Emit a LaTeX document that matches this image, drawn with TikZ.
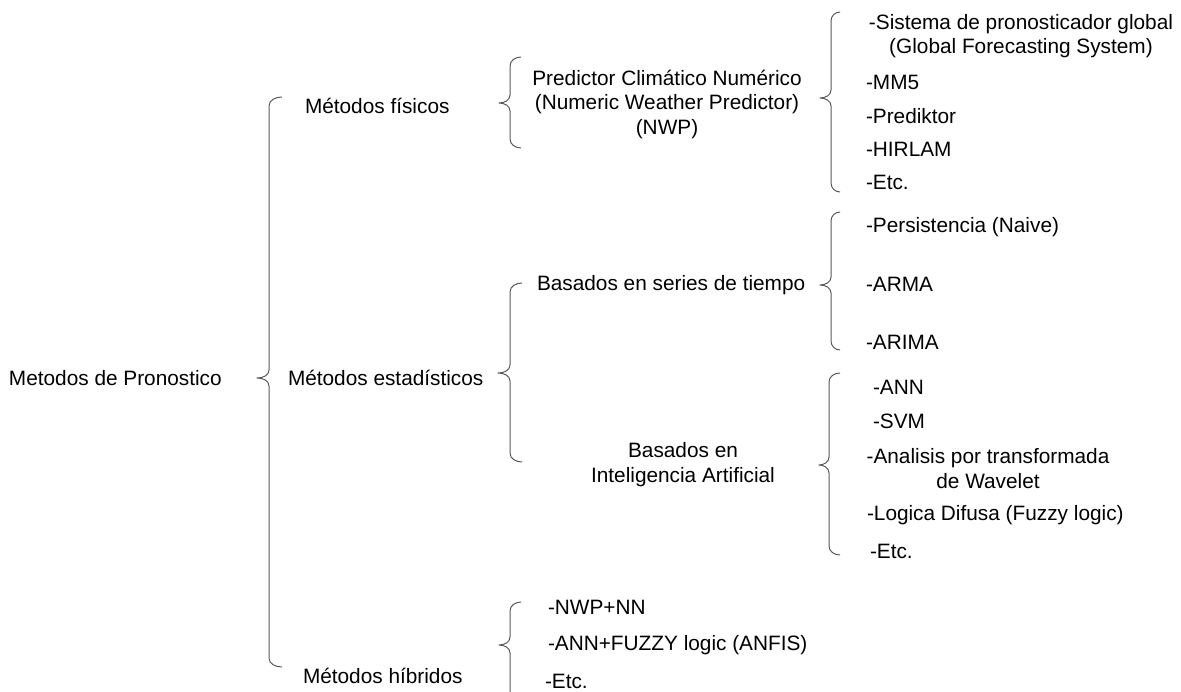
\documentclass[tikz,border=0pt]{standalone}
\usepackage{fontspec}
\setmainfont{Liberation Sans}
\begin{document}
\begin{tikzpicture}[x=1pt,y=-1pt,
  txt/.style={inner sep=0pt,outer sep=0pt,text=black,font=\fontsize{20.8}{24.5}\selectfont},
  lft/.style={txt,anchor=west},
  ctr/.style={txt,anchor=center,align=center},
  bracket/.style={draw=black!65,line width=1pt,line join=round}]
\useasboundingbox (0,0) rectangle (1181,692);

% curly bracket: #1 hook end x, #2 spine x, #3 tip x, #4 top y, #5 tip y, #6 bottom y
\newcommand\curlybrk[6]{%
  \draw[bracket] (#1,#4) to[out=180,in=90] (#2,#4+9) -- (#2,#5-8)
    to[out=-90,in=0] (#3,#5) to[out=0,in=90] (#2,#5+8)
    -- (#2,#6-9) to[out=-90,in=180] (#1,#6);}

% level 0
\node[lft] (root) at (9,378) {Metodos de Pronostico};

% level 1
\node[lft] (fis) at (305,106) {Métodos físicos};
\node[lft] (est) at (288,378) {Métodos estadísticos};
\node[lft] (hib) at (303,676) {Métodos híbridos};

% level 2
\node[ctr] (nwp) at (667,104) {Predictor Climático Numérico\\(Numeric Weather Predictor)\\(NWP)};
\node[lft] (series) at (537,285) {Basados en series de tiempo};
\node[ctr] (ia) at (683,464.5) {Basados en\\Inteligencia Artificial};

% physical models
\node[ctr] (gfs) at (1021,36) {-Sistema de pronosticador global\\(Global Forecasting System)};
\node[lft] (mm5) at (866,82) {-MM5};
\node[lft] (pred) at (866,116) {-Prediktor};
\node[lft] (hirlam) at (866,149) {-HIRLAM};
\node[lft] (etc1) at (866,182) {-Etc.};

% time-series models
\node[lft] (pers) at (866,227) {-Persistencia (Naive)};
\node[lft] (arma) at (866,284) {-ARMA};
\node[lft] (arima) at (866,342) {-ARIMA};

% AI models
\node[lft] (ann) at (873,387) {-ANN};
\node[lft] (svm) at (873,421) {-SVM};
\node[ctr] (wav) at (988,468.5) {-Analisis por transformada\\de Wavelet};
\node[lft] (fuzzy) at (867,515) {-Logica Difusa (Fuzzy logic)};
\node[lft] (etc2) at (870,551) {-Etc.};

% hybrid models
\node[lft] (nwpnn) at (548,607) {-NWP+NN};
\node[lft] (anfis) at (548,645) {-ANN+FUZZY logic (ANFIS)};
\node[lft] (etc3) at (545,681) {-Etc.};

% brackets
\curlybrk{282}{269}{257}{97}{378}{667}
\curlybrk{521}{510}{499}{57}{103}{148}
\curlybrk{840}{831}{820}{12}{98}{192}
\curlybrk{522}{510}{498}{283}{373}{462}
\curlybrk{840}{831}{820}{212}{285}{350}
\curlybrk{840}{829}{819}{373}{465}{555}
\curlybrk{521}{510}{499}{602}{645}{702}
\end{tikzpicture}
\end{document}
